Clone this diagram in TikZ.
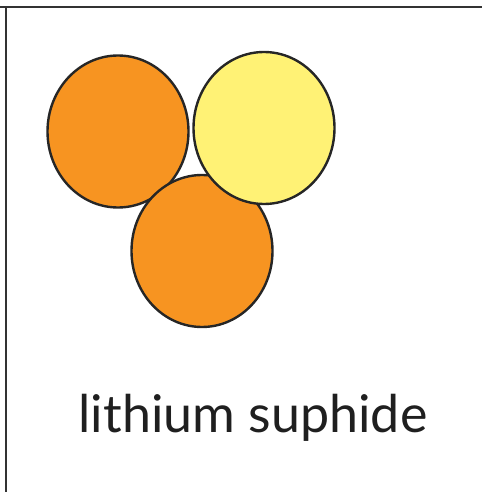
\documentclass[tikz,border=0pt]{standalone}
\usepackage{fontspec}
\setmainfont{Lato}
\usepackage{tikz}
\definecolor{atomorange}{RGB}{247, 148, 33}
\definecolor{atomyellow}{RGB}{255, 242, 117}
\usetikzlibrary{shapes.geometric}

\begin{document}
\begin{tikzpicture}[atom/.style={draw=black!85, ellipse, line width=2.4pt, inner sep=0pt, minimum width=141pt, minimum height=152pt}, x=1pt, y=-1pt]
	% Bildbereich
	\useasboundingbox (0,0) rectangle (482,492);
	% Rahmen zeichnen
	\draw[line width=2.3pt, black!80] (0,7) -- (482,7);
	\draw[line width=2.3pt, black!80] (6.2,7) -- (6.2,492);
	% Atome zeichnen
	\node[atom, fill=atomorange] (lione) at (118,131.5) {};
	\node[atom, fill=atomorange] (litwo) at (202,251) {};
	\node[atom, fill=atomyellow] (sulf) at (264,128) {};
	% Beschriftung
	\node[text=black!88, font=\fontsize{52}{60}\selectfont] (name) at (253,418) {lithium suphide};
\end{tikzpicture}
\end{document}
